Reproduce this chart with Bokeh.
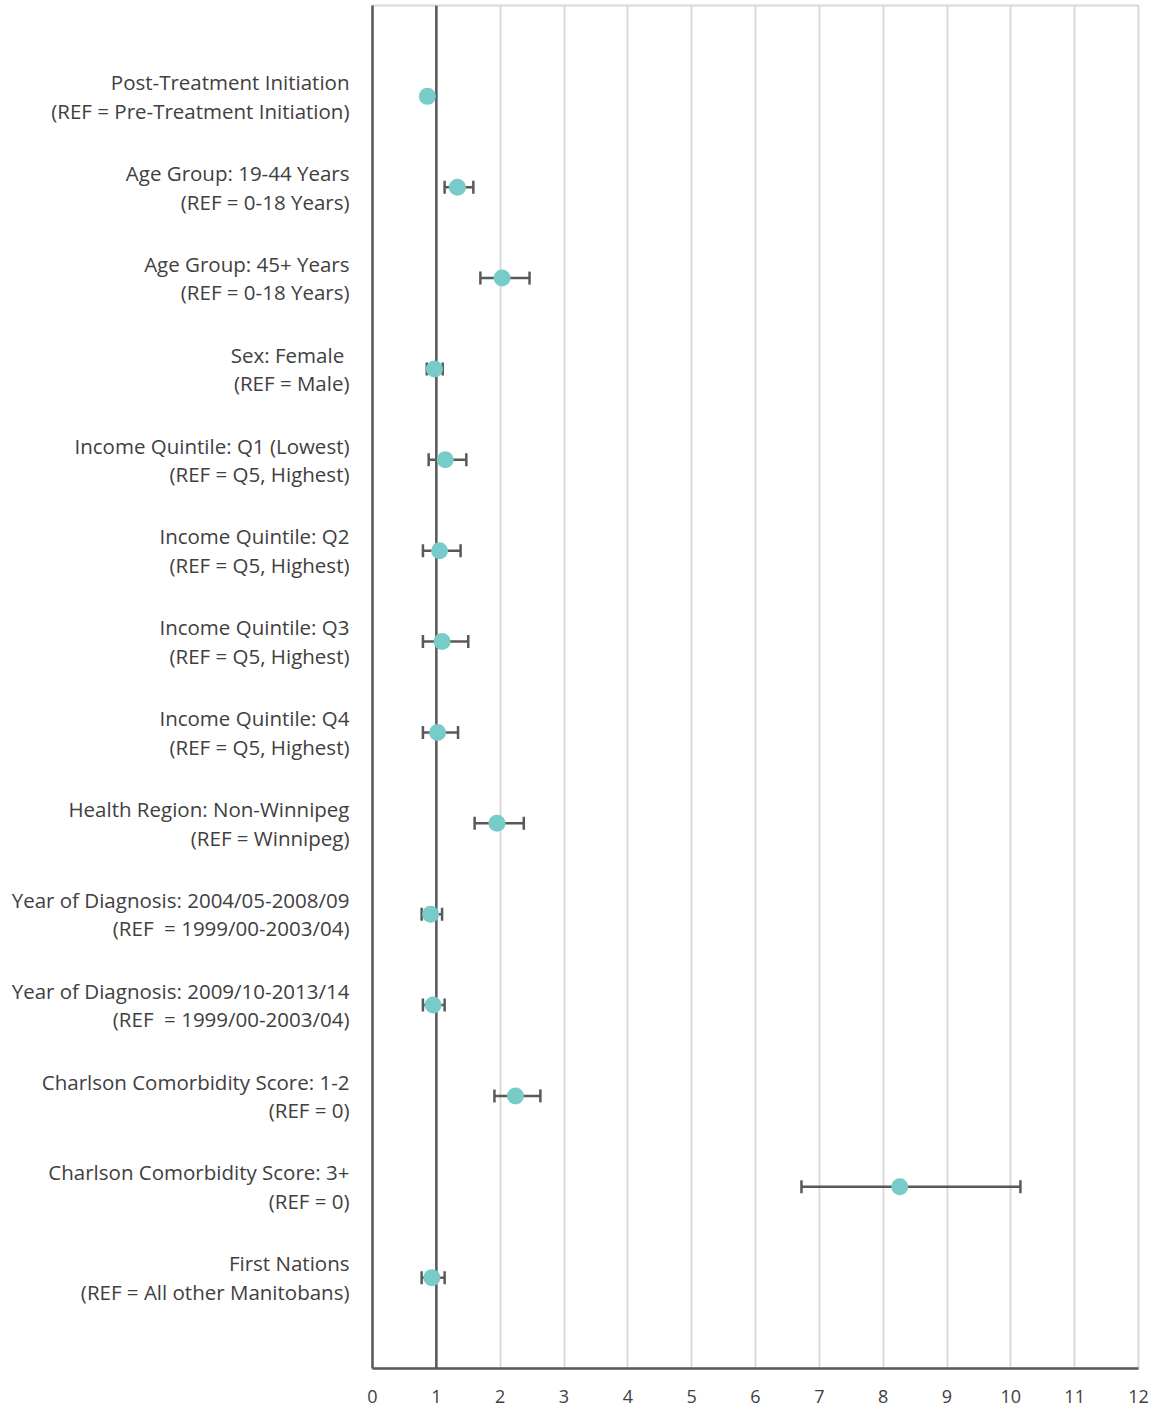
from bokeh.plotting import figure
from bokeh.models import ColumnDataSource, Whisker, TeeHead, Span, FixedTicker, Range1d
from bokeh.embed import file_html
from bokeh.resources import INLINE

labels = [
    "Post-Treatment Initiation\n(REF = Pre-Treatment Initiation)",
    "Age Group: 19-44 Years\n(REF = 0-18 Years)",
    "Age Group: 45+ Years\n(REF = 0-18 Years)",
    "Sex: Female \n(REF = Male)",
    "Income Quintile: Q1 (Lowest)\n(REF = Q5, Highest)",
    "Income Quintile: Q2\n(REF = Q5, Highest)",
    "Income Quintile: Q3\n(REF = Q5, Highest)",
    "Income Quintile: Q4\n(REF = Q5, Highest)",
    "Health Region: Non-Winnipeg\n(REF = Winnipeg)",
    "Year of Diagnosis: 2004/05-2008/09\n(REF \u00a0= 1999/00-2003/04)",
    "Year of Diagnosis: 2009/10-2013/14\n(REF \u00a0= 1999/00-2003/04)",
    "Charlson Comorbidity Score: 1-2\n(REF = 0)",
    "Charlson Comorbidity Score: 3+\n(REF = 0)",
    "First Nations\n(REF = All other Manitobans)",
]
estimate = [0.86, 1.33, 2.03, 0.97, 1.14, 1.05, 1.09, 1.02, 1.95, 0.91, 0.95, 2.24, 8.26, 0.93]
lower = [0.83, 1.13, 1.69, 0.85, 0.88, 0.79, 0.79, 0.79, 1.60, 0.77, 0.79, 1.91, 6.72, 0.77]
upper = [0.89, 1.58, 2.46, 1.10, 1.47, 1.38, 1.50, 1.34, 2.37, 1.09, 1.13, 2.63, 10.15, 1.13]
x_ticks = list(range(0, 13))

n = len(labels)
ypos = [n - i for i in range(n)]
src = ColumnDataSource(dict(y=ypos, x=estimate, lo=lower, hi=upper))

FONT = "Open Sans"
TXT = "#404040"
DARK = "#595959"
GRID = "#d9d9d9"

p = figure(width=1150, height=1408, x_range=Range1d(0, 12), y_range=Range1d(0, n + 1),
           output_backend="svg", toolbar_location=None,
           min_border_left=372, min_border_right=12, min_border_top=5, min_border_bottom=40)
p.outline_line_color = GRID
p.outline_line_width = 2
p.background_fill_color = "white"

# grid
p.xgrid.ticker = FixedTicker(ticks=x_ticks)
p.xgrid.grid_line_color = GRID
p.xgrid.grid_line_width = 2
p.ygrid.grid_line_color = None

# reference line at 1
ref = Span(location=1, dimension="height", line_color=DARK, line_width=2.5, level="underlay")
p.add_layout(ref)

# error bars
w = Whisker(base="y", lower="lo", upper="hi", dimension="width", source=src,
            line_color=DARK, line_width=2.5, level="underlay",
            lower_head=TeeHead(size=13, line_color=DARK, line_width=2.5),
            upper_head=TeeHead(size=13, line_color=DARK, line_width=2.5))
p.add_layout(w)

p.scatter(x="x", y="y", source=src, size=17, fill_color="#77CBC8", line_color=None)

# axes
xa = p.xaxis[0]
xa.ticker = FixedTicker(ticks=x_ticks)
xa.axis_line_color = DARK
xa.axis_line_width = 2.5
xa.major_tick_line_color = None
xa.minor_tick_line_color = None
xa.major_label_standoff = 15
xa.major_label_text_font = FONT
xa.major_label_text_font_size = "18px"
xa.major_label_text_color = TXT

ya = p.yaxis[0]
ya.ticker = FixedTicker(ticks=ypos)
ya.major_label_overrides = {y: lab for y, lab in zip(ypos, labels)}
ya.axis_line_color = DARK
ya.axis_line_width = 2.5
ya.major_tick_line_color = None
ya.minor_tick_line_color = None
ya.major_label_standoff = 17
ya.major_label_text_font = FONT
ya.major_label_text_font_size = "20.5px"
ya.major_label_text_color = TXT
ya.major_label_text_line_height = 1.02
ya.major_label_text_align = "right"

open("out.html", "w").write(file_html(p, INLINE))
